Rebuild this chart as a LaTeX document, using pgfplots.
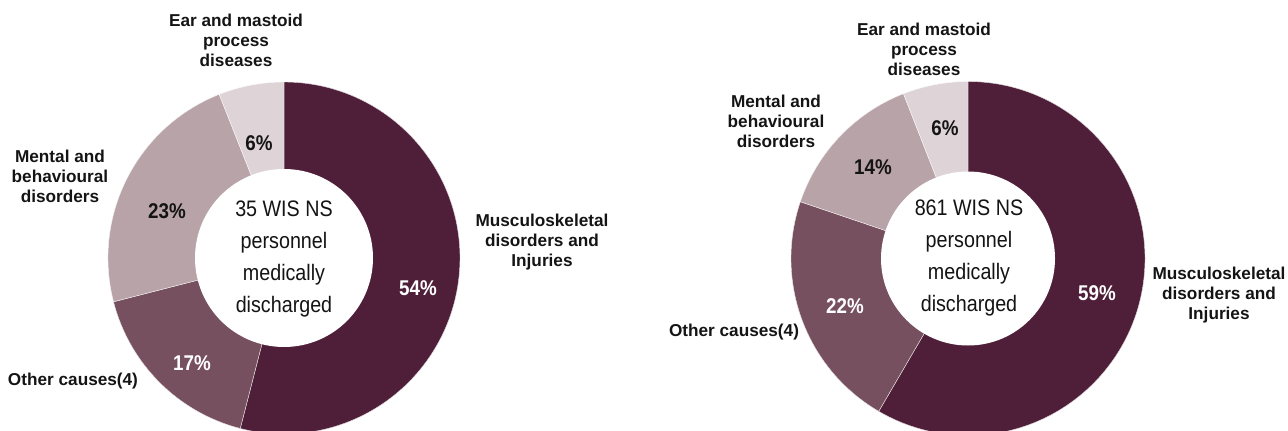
\documentclass[border=0pt]{standalone}
\usepackage{pgfplots}
\pgfplotsset{compat=1.18}
\usepackage{pgfplotstable}
\usepackage{fontspec}
\setmainfont{Liberation Sans}
\newfontfamily\narrowfont[FakeStretch=0.88]{Liberation Sans}

\definecolor{slice1}{HTML}{4F1F3A}
\definecolor{slice2}{HTML}{76505E}
\definecolor{slice3}{HTML}{B8A3A8}
\definecolor{slice4}{HTML}{DED4D7}
\definecolor{txt}{HTML}{141414}

\tikzset{
  lab/.style={font=\bfseries\fontsize{12.9}{15}\selectfont, align=center, text=txt},
  pct/.style={font=\narrowfont\bfseries\fontsize{16}{18}\selectfont},
  mid/.style={font=\narrowfont\fontsize{16.8}{24}\selectfont, align=center, text=txt},
}

% causes of medical discharge (%), clockwise from 12 o'clock
\pgfplotstableread{
pct  col
54   slice1
17   slice2
23   slice3
6    slice4
}\leftdata
\pgfplotstableread{
pct  col
59   slice1
22   slice2
14   slice3
6    slice4
}\rightdata

% \donut{table}{cx}{cy}{outer r}{inner r}  -- radii in px (1px = 0.75pt)
\newcommand{\donut}[5]{%
  \xdef\dtotal{0}%
  \pgfplotsinvokeforeach{0,...,3}{%
    \pgfplotstablegetelem{##1}{pct}\of#1%
    \pgfmathsetmacro{\dtmp}{\dtotal+\pgfplotsretval}\xdef\dtotal{\dtmp}%
  }%
  \pgfmathsetlengthmacro{\dro}{#4*0.75pt}%
  \pgfmathsetlengthmacro{\dri}{#5*0.75pt}%
  \xdef\dcum{0}%
  \pgfplotsinvokeforeach{0,...,3}{%
    \pgfplotstablegetelem{##1}{pct}\of#1\let\dv\pgfplotsretval
    \pgfplotstablegetelem{##1}{col}\of#1\let\dcol\pgfplotsretval
    \pgfmathsetmacro{\da}{90-(\dcum/\dtotal)*360}%
    \pgfmathsetmacro{\db}{90-((\dcum+\dv)/\dtotal)*360}%
    \edef\dcmd{\noexpand\fill[\dcol, draw=white!85!\dcol, line width=0.3pt]
      (axis cs:#2,#3) -- ++(\da:\dro)
      arc[start angle=\da, end angle=\db, radius=\dro] -- cycle;}%
    \dcmd
    \pgfmathsetmacro{\dtmp}{\dcum+\dv}\xdef\dcum{\dtmp}%
  }%
  \edef\dcmd{\noexpand\fill[white] (axis cs:#2,#3) circle[radius=\dri];}%
  \dcmd
}

\begin{document}
\begin{tikzpicture}
\path[use as bounding box] (0,0) rectangle (966pt,322.5pt);
\begin{axis}[
    at={(0,0)}, anchor=south west,
    x=0.75pt, y=0.75pt,
    xmin=0, xmax=1288, ymin=0, ymax=430,
    hide axis, clip=true,
]
% left donut
\donut{\leftdata}{284}{172}{176}{89}
\node[lab] at (axis cs:236,390) {Ear and mastoid\\process\\diseases};
\node[lab] at (axis cs:60,254) {Mental and\\behavioural\\disorders};
\node[lab] at (axis cs:542,188) {Musculoskeletal\\disorders and\\Injuries};
\node[lab] at (axis cs:73,49) {Other causes(4)};
\node[pct, text=txt] at (axis cs:259,287) {6\%};
\node[pct, text=txt] at (axis cs:167,219) {23\%};
\node[pct, text=white] at (axis cs:192,67) {17\%};
\node[pct, text=white] at (axis cs:418,142) {54\%};
\node[mid] at (axis cs:284,171) {35 WIS NS\\personnel\\medically\\discharged};

% right donut
\donut{\rightdata}{968}{171.5}{177}{87}
\node[lab] at (axis cs:924,381) {Ear and mastoid\\process\\diseases};
\node[lab] at (axis cs:776,309) {Mental and\\behavioural\\disorders};
\node[lab] at (axis cs:1219,135) {Musculoskeletal\\disorders and\\Injuries};
\node[lab] at (axis cs:734,98) {Other causes(4)};
\node[pct, text=txt] at (axis cs:945,302) {6\%};
\node[pct, text=txt] at (axis cs:873,263) {14\%};
\node[pct, text=white] at (axis cs:845,124) {22\%};
\node[pct, text=white] at (axis cs:1097,137) {59\%};
\node[mid] at (axis cs:969,172) {861 WIS NS\\personnel\\medically\\discharged};
\end{axis}
\end{tikzpicture}
\end{document}
